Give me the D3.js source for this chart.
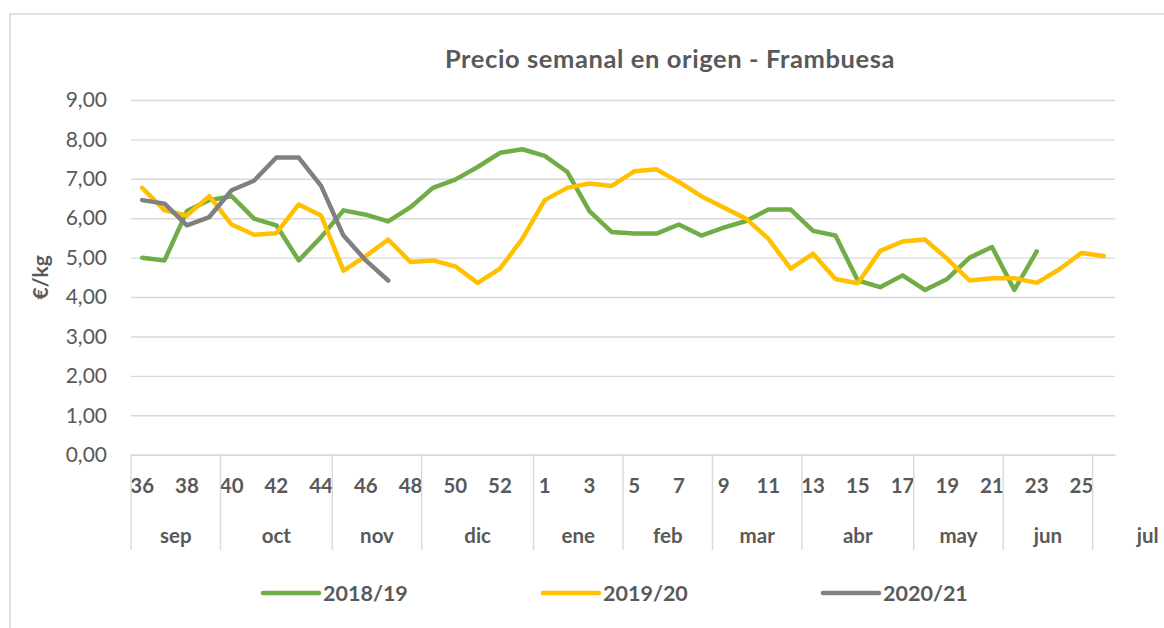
<!DOCTYPE html>
<html>
<head>
<meta charset="utf-8">
<script src="https://cdn.jsdelivr.net/npm/d3@7"></script>
<style>
  body { margin: 0; background: #fff; font-family: Lato, "Open Sans", sans-serif; }
  text { fill: #595959; }
</style>
</head>
<body>
<div id="main"></div>
<script>
// week categories on the x axis (season goes sep -> jul)
const weeks = [36, 37, 38, 39, 40, 41, 42, 43, 44, 45, 46, 47, 48, 49, 50, 51, 52, 53,
  1, 2, 3, 4, 5, 6, 7, 8, 9, 10, 11, 12, 13, 14, 15, 16, 17, 18, 19, 20, 21, 22, 23, 24, 25, 26];
const months = ["sep", "oct", "nov", "dic", "ene", "feb", "mar", "abr", "may", "jun", "jul"];
const monthWeeks = [4, 5, 4, 5, 4, 4, 4, 5, 4, 4, 1];
const yTicks = [0, 1, 2, 3, 4, 5, 6, 7, 8, 9];

const seriesNames = ["2018/19", "2019/20", "2020/21"];
const seriesColors = ["#70AD47", "#FFC000", "#808080"];

const p2018 = [5.00, 4.93, 6.18, 6.46, 6.56, 5.99, 5.82, 4.93, 5.52, 6.20, 6.09, 5.92, 6.28,
  6.77, 6.98, 7.30, 7.66, 7.75, 7.58, 7.18, 6.18, 5.65, 5.61, 5.61, 5.84, 5.56, 5.76, 5.93,
  6.22, 6.22, 5.68, 5.56, 4.42, 4.25, 4.55, 4.18, 4.46, 5.00, 5.27, 4.18, 5.16];
const p2019 = [6.77, 6.20, 6.07, 6.56, 5.84, 5.58, 5.62, 6.35, 6.07, 4.67, 5.04, 5.46, 4.89,
  4.93, 4.78, 4.36, 4.72, 5.48, 6.46, 6.77, 6.88, 6.82, 7.19, 7.24, 6.92, 6.56, 6.27, 5.99,
  5.48, 4.72, 5.10, 4.46, 4.35, 5.17, 5.41, 5.46, 4.97, 4.42, 4.48, 4.48, 4.36, 4.70, 5.12, 5.04];
const p2020 = [6.46, 6.37, 5.82, 6.03, 6.71, 6.95, 7.54, 7.54, 6.82, 5.56, 4.93, 4.42];

const ctx = { width: 1164, height: 628, left: 131, right: 1115, top: 100, bottom: 454.7 };

const svg = d3.select("#main").append("svg")
  .attr("width", ctx.width)
  .attr("height", ctx.height);

// outer chart frame (only top and left edges are visible)
svg.append("rect")
  .attr("x", 10).attr("y", 14)
  .attr("width", 1200).attr("height", 700)
  .attr("fill", "none")
  .attr("stroke", "#D9D9D9")
  .attr("stroke-width", 1.5);

svg.append("text")
  .attr("x", 670).attr("y", 58)
  .attr("text-anchor", "middle")
  .attr("dominant-baseline", "central")
  .style("font-size", "25.5px")
  .style("font-weight", "bold")
  .style("letter-spacing", "0.6px")
  .text("Precio semanal en origen - Frambuesa");

const x = d3.scaleBand()
  .domain(weeks.map(String))
  .range([ctx.left, ctx.right]);

const y = d3.scaleLinear()
  .domain([0, 9])
  .range([ctx.bottom, ctx.top]);

// gridlines
const grid = svg.append("g")
  .attr("transform", `translate(${ctx.left},0)`)
  .call(d3.axisLeft(y).tickValues(yTicks).tickSize(-(ctx.right - ctx.left)).tickFormat(""));
grid.select(".domain").remove();
grid.selectAll("line").attr("stroke", "#D9D9D9").attr("stroke-width", 1.4);

// y axis labels
const yAxis = svg.append("g")
  .attr("transform", `translate(${ctx.left},0)`)
  .call(d3.axisLeft(y).tickValues(yTicks).tickSize(0).tickPadding(24)
    .tickFormat(d => d3.format(".2f")(d).replace(".", ",")));
yAxis.select(".domain").remove();
yAxis.selectAll("text")
  .style("font-size", "21px")
  .style("font-family", "Lato, sans-serif")
  .attr("fill", "#595959");

svg.append("text")
  .attr("transform", `translate(39,${(ctx.top + ctx.bottom) / 2}) rotate(-90)`)
  .attr("text-anchor", "middle")
  .attr("dominant-baseline", "central")
  .style("font-size", "21px")
  .style("font-weight", "bold")
  .text("€/kg");

// x axis: week numbers (every second one)
const xAxis = svg.append("g")
  .attr("transform", `translate(0,${ctx.bottom})`)
  .call(d3.axisBottom(x)
    .tickValues(weeks.filter((w, i) => i % 2 === 0).map(String))
    .tickSize(0).tickPadding(24));
xAxis.select(".domain").attr("stroke", "#D9D9D9").attr("stroke-width", 1.4);
xAxis.selectAll("text")
  .style("font-size", "20.5px")
  .style("font-weight", "bold")
  .style("font-family", "Lato, sans-serif")
  .attr("fill", "#595959");

// month groups
let start = 0;
const groups = months.map((m, i) => {
  const g = { name: m, first: weeks[start], last: weeks[start + monthWeeks[i] - 1] };
  start += monthWeeks[i];
  return g;
});

const monthG = svg.append("g");
monthG.selectAll("line")
  .data(groups)
  .enter().append("line")
  .attr("x1", d => x(String(d.first)))
  .attr("x2", d => x(String(d.first)))
  .attr("y1", ctx.bottom)
  .attr("y2", 550)
  .attr("stroke", "#D9D9D9")
  .attr("stroke-width", 1.4);

monthG.selectAll("text")
  .data(groups)
  .enter().append("text")
  .attr("x", (d, i) => i === groups.length - 1
    ? x(String(d.first)) + 55
    : (x(String(d.first)) + x(String(d.last)) + x.bandwidth()) / 2)
  .attr("y", 535)
  .attr("text-anchor", "middle")
  .attr("dominant-baseline", "central")
  .style("font-size", "20.5px")
  .style("font-weight", "bold")
  .text(d => d.name);

// lines
const line = d3.line()
  .x((d, i) => x(String(weeks[i])) + x.bandwidth() / 2)
  .y(d => y(d));

svg.append("g")
  .selectAll("path")
  .data([p2018, p2019, p2020])
  .enter().append("path")
  .attr("d", line)
  .attr("fill", "none")
  .attr("stroke", (d, i) => seriesColors[i])
  .attr("stroke-width", 4.5)
  .attr("stroke-linejoin", "round")
  .attr("stroke-linecap", "round");

// legend
const legend = svg.append("g")
  .selectAll("g")
  .data(seriesNames)
  .enter().append("g")
  .attr("transform", (d, i) => `translate(${263 + i * 280},593)`);

legend.append("line")
  .attr("x1", 0).attr("x2", 56)
  .attr("stroke", (d, i) => seriesColors[i])
  .attr("stroke-width", 4.5)
  .attr("stroke-linecap", "round");

legend.append("text")
  .attr("x", 60)
  .attr("dominant-baseline", "central")
  .style("font-size", "21.5px")
  .style("font-weight", "bold")
  .text(d => d);
</script>
</body>
</html>
